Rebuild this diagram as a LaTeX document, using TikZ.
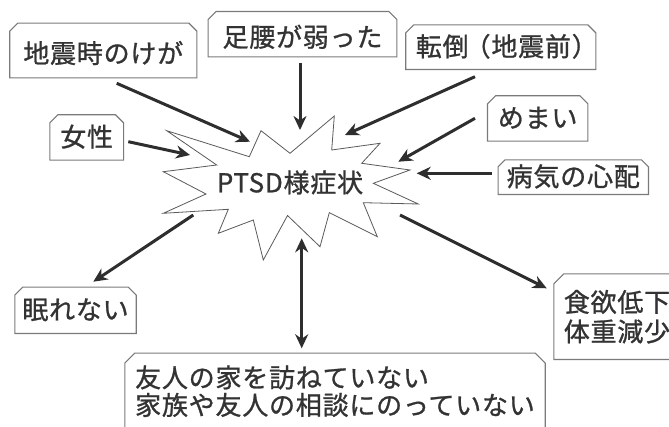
\documentclass[tikz,border=0pt]{standalone}
\usepackage{fontspec}
\setmainfont{Noto Sans CJK JP}[LetterSpace=3,FakeBold=1]
\usetikzlibrary{arrows.meta}
\definecolor{txt}{HTML}{333333}
\definecolor{arrc}{HTML}{2E2E2E}
\definecolor{boxc}{HTML}{7A7A7A}
\definecolor{burstc}{HTML}{5A5A5A}
\newcommand\chamferbox[2]{%
  \draw[boxline] (#1.south west) -- ([yshift=-#2]#1.north west) -- ([xshift=#2]#1.north west)
    -- ([xshift=-#2]#1.north east) -- ([yshift=-#2]#1.north east) -- (#1.south east) -- cycle;}
\begin{document}
\begin{tikzpicture}[x=1pt,y=-1pt,
  lbl/.style={inner sep=0pt, text=txt, font=\fontsize{26}{27.5}\selectfont},
  single/.style={text height=22pt, text depth=4pt},
  lowtext/.style={text height=29pt, text depth=4pt},
  boxline/.style={draw=boxc, line width=1.1pt, line join=miter},
  burst/.style={draw=burstc, line width=0.8pt, fill=white, line join=miter},
  arr/.style={draw=arrc, line width=3pt,
    -{Stealth[length=14pt,width=13pt,inset=4.5pt]}},
  arrboth/.style={draw=arrc, line width=3pt,
    {Stealth[length=14pt,width=13pt,inset=4.5pt]}-{Stealth[length=14pt,width=13pt,inset=4.5pt]}}]
\useasboundingbox (0,0) rectangle (669,427);
\fill[white] (0,0) rectangle (669,427);

% starburst
\draw[burst] (166.7,130.7) -- (249.3,156.7) -- (261,130.7) -- (290,153.3) -- (334.3,116)
  -- (331.7,150) -- (380,143.3) -- (361.7,163.3) -- (410,170) -- (373.3,183.3)
  -- (418.3,204) -- (363.3,202.7) -- (377.3,236.7) -- (329.3,212.7) -- (320,246.7)
  -- (287.5,215.5) -- (263.3,260) -- (253.3,220) -- (218.3,233.3) -- (228.3,209.3)
  -- (163.3,213.3) -- (206,194) -- (163.3,171.7) -- (216.7,165) -- cycle;
\node[lbl, single] (ptsd) at (290,183.3) {PTSD様症状};

% boxes
\node[lbl, lowtext, minimum width=186.7pt, minimum height=54.4pt] (n1) at (103.3,50.5) {地震時のけが};
\node[lbl, lowtext, minimum width=188.4pt, minimum height=45pt] (n2) at (302.5,34.2) {足腰が弱った};
\node[lbl, single, minimum width=189.7pt, minimum height=44.3pt] (n3) at (500.8,47.2) {転倒\kern-4pt（地震前）\kern-12pt};
\node[lbl, single, minimum width=100pt, minimum height=45pt] (n4) at (537.7,118.5) {めまい};
\node[lbl, single, minimum width=150pt, minimum height=34.3pt] (n5) at (573.3,177.2) {病気の心配};
\node[lbl, single, minimum width=73.3pt, minimum height=45pt] (n6) at (86.7,137.5) {女性};
\node[lbl, single, minimum width=121pt, minimum height=46pt] (n7) at (75.5,310.3) {眠れない};
\node[lbl, align=center, minimum width=126pt, minimum height=85.3pt] (n8) at (617,316.7) {食欲低下\\[2pt]体重減少};
\node[lbl, align=left, minimum width=420pt, minimum height=75.8pt] (n9) at (335,391.2) {友人の家を訪ねていない\\家族や友人の相談にのっていない};

\chamferbox{n1}{8pt}
\chamferbox{n2}{8pt}
\chamferbox{n3}{8pt}
\chamferbox{n4}{8pt}
\chamferbox{n5}{7pt}
\chamferbox{n6}{8pt}
\chamferbox{n7}{8pt}
\chamferbox{n8}{10pt}
\chamferbox{n9}{10pt}

% arrow end points
\coordinate (s1) at (116.7,83.3);  \coordinate (e1) at (250,141.7);
\coordinate (s2) at (300,63.3);    \coordinate (e2) at (300,130);
\coordinate (s3) at (475,76.7);    \coordinate (e3) at (345,135);
\coordinate (s4) at (475,118.3);   \coordinate (e4) at (398.3,161.7);
\coordinate (s5) at (491.7,173.3); \coordinate (e5) at (416.7,173.3);
\coordinate (s6) at (128.3,141.7); \coordinate (e6) at (190,155);
\coordinate (s7) at (193.3,215);   \coordinate (e7) at (93.3,281.7);
\coordinate (s8) at (301.7,238.3); \coordinate (e8) at (301.7,348.3);
\coordinate (s9) at (400,215);     \coordinate (e9) at (546.7,288.3);

\draw[arr] (s1) -- (e1);
\draw[arr] (s2) -- (e2);
\draw[arr] (s3) -- (e3);
\draw[arr] (s4) -- (e4);
\draw[arr] (s5) -- (e5);
\draw[arr] (s6) -- (e6);
\draw[arr] (s7) -- (e7);
\draw[arrboth] (s8) -- (e8);
\draw[arr] (s9) -- (e9);
\end{tikzpicture}
\end{document}
